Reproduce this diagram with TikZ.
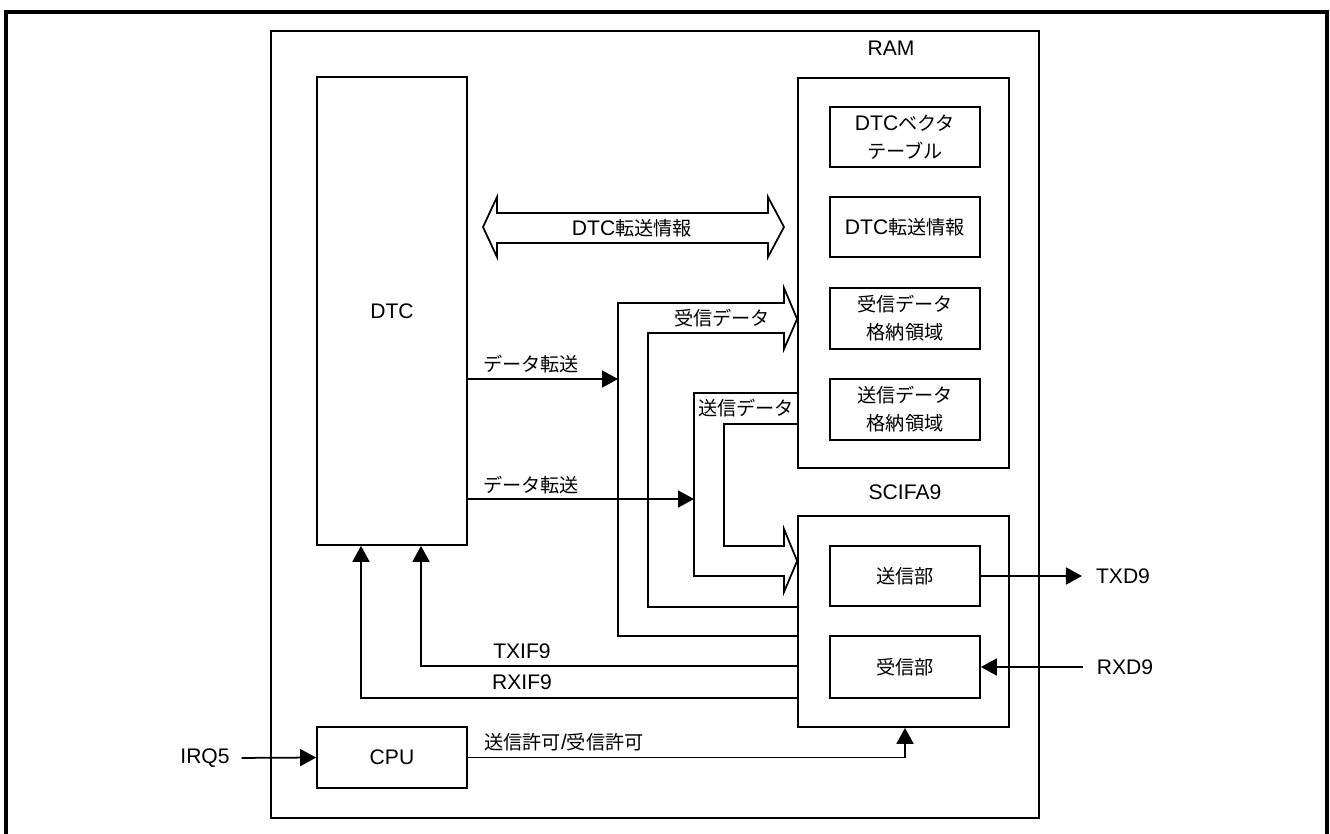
\documentclass[tikz,border=0pt]{standalone}
\usepackage{fontspec}
\setmainfont{Liberation Sans}
\newfontfamily\jp[Scale=0.91]{Noto Sans CJK JP}
\usetikzlibrary{arrows.meta}
\tikzset{
  every picture/.style={font=\fontsize{12}{16}\selectfont, line join=miter},
  blk/.style={draw, line width=1pt, inner sep=0pt, align=center},
  lbl/.style={inner sep=1pt, align=center},
  arr/.style={-{Triangle[length=0.32cm,width=0.34cm]}, line width=1pt},
  fat/.style={line width=1pt},
  frame/.style={line width=1.8pt},
}

\begin{document}
\begin{tikzpicture}[x=0.02cm,y=-0.02cm]
\useasboundingbox (0,0) rectangle (1330,833);
\draw[frame] (6,850) -- (6,12) -- (1327,12) -- (1327,850);
% chip and its blocks
\node[blk, minimum width=15.36cm, minimum height=15.74cm] (mcu) at (655,424.5) {};
\node[blk, minimum width=3cm, minimum height=9.36cm] (dtc) at (392,311) {DTC};
\node[blk, minimum width=3cm, minimum height=1.22cm] (cpu) at (392,757.5) {CPU};
\node[blk, minimum width=4.22cm, minimum height=7.8cm] (ram) at (903.5,273) {};
\node[lbl] (ramlbl) at (891,48) {RAM};
\node[blk, minimum width=3cm, minimum height=1.2cm] (vect) at (905,137) {DTC{\jp ベクタ}\\{\jp テーブル}};
\node[blk, minimum width=3cm, minimum height=1.2cm] (info) at (905,227) {DTC{\jp 転送情報}};
\node[blk, minimum width=3cm, minimum height=1.22cm] (rxbuf) at (905,318.5) {{\jp 受信データ}\\{\jp 格納領域}};
\node[blk, minimum width=3cm, minimum height=1.22cm] (txbuf) at (905,409.5) {{\jp 送信データ}\\{\jp 格納領域}};
\node[blk, minimum width=4.22cm, minimum height=4.22cm] (scifa) at (903.5,621.5) {};
\node[lbl] (scifalbl) at (905,492) {SCIFA9};
\node[blk, minimum width=3cm, minimum height=1.2cm] (txs) at (905,576) {{\jp 送信部}};
\node[blk, minimum width=3cm, minimum height=1.24cm] (rxs) at (905,667) {{\jp 受信部}};
% pins
\node[lbl] (irq) at (205,758) {IRQ5};
\node[lbl] (txd) at (1123,576) {TXD9};
\node[lbl] (rxd) at (1125,667) {RXD9};
% DTC transfer info (double fat arrow)
\draw[fat] (483,227) -- (497,197) -- (497,213) -- (768,213) -- (768,197) -- (784,227)
  -- (768,257) -- (768,243) -- (497,243) -- (497,257) -- cycle;
\node[lbl] (infolbl) at (632,228) {DTC{\jp 転送情報}};
% receive data: SCIFA9 -> RAM
\draw[fat] (scifa.west |- 0,636) -- (618,636) -- (618,303) -- (784,303) -- (784,288)
  -- (ram.west |- 0,319) -- (784,349) -- (784,333) -- (648,333) -- (648,607) -- (scifa.west |- 0,607);
\node[lbl] (rxdlbl) at (722,318) {{\jp 受信データ}};
% send data: RAM -> SCIFA9
\draw[fat] (ram.west |- 0,393) -- (694,393) -- (694,576) -- (784,576) -- (784,592)
  -- (scifa.west |- 0,561) -- (784,529) -- (784,546) -- (724,546) -- (724,424) -- (ram.west |- 0,424);
\node[lbl] (txdlbl) at (746,408) {{\jp 送信データ}};
% data transfer
\draw[arr] (dtc.east |- 0,379) -- (618,379);
\node[lbl] (xfer1) at (531,364) {{\jp データ転送}};
\draw[arr] (dtc.east |- 0,499) -- (694,499);
\node[lbl] (xfer2) at (531,485) {{\jp データ転送}};
% interrupt requests
\draw[arr] (scifa.west |- 0,666) -| (dtc.south -| 421,0);
\node[lbl] (txif) at (522,651) {TXIF9};
\draw[arr] (scifa.west |- 0,698) -| (dtc.south -| 361,0);
\node[lbl] (rxif) at (522,682) {RXIF9};
% enable
\draw[arr] (cpu.east) -| (scifa.south -| 905,0);
\node[lbl] (enlbl) at (564,742) {{\jp 送信許可}/{\jp 受信許可}};
\draw[arr, shorten <=0.2cm] (irq.east) -- (cpu.west);
\draw[arr, shorten >=0.24cm] (txs.east) -- (txd.west);
\draw[arr, shorten <=0.24cm] (rxd.west) -- (rxs.east);
\end{tikzpicture}
\end{document}
